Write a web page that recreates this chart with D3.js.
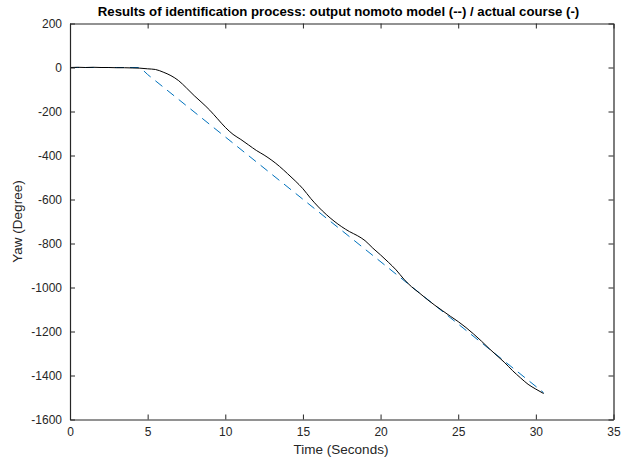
<!DOCTYPE html>
<html>
<head>
<meta charset="utf-8">
<script src="https://cdn.jsdelivr.net/npm/d3@7"></script>
<style>
  body { margin: 0; background: #fff; }
  svg { display: block; font-family: "Liberation Sans", Arial, sans-serif; }
</style>
</head>
<body>
<svg id="chart" width="629" height="461"></svg>
<script>
// actual course (solid black), sampled from the plot
var courseTime = [0, 0.5, 1, 1.5, 2, 2.5, 3, 3.5, 4, 4.5, 5, 5.5, 6, 6.5, 7, 7.5, 8, 8.5, 9, 9.5,
  10, 10.5, 11, 11.5, 12, 12.5, 13, 13.5, 14, 14.5, 15, 15.5, 16, 16.5, 17, 17.5, 18, 18.5, 19, 19.5,
  20, 20.5, 21, 21.5, 22, 22.5, 23, 23.5, 24, 24.5, 25, 25.5, 26, 26.5, 27, 27.5, 28, 28.5, 29, 29.5, 30, 30.5]
var courseYaw = [0, 1, 0, 1, 0, 0, -1, -1, -2, -3, -6, -9, -21, -37, -60, -93, -128, -160, -194, -233,
  -272, -304, -327, -352, -377, -398, -422, -450, -482, -515, -551, -595, -634, -668, -698, -724, -746, -764, -787, -821,
  -852, -885, -920, -962, -997, -1025, -1054, -1081, -1106, -1131, -1155, -1182, -1212, -1244, -1278, -1310, -1342, -1378, -1410, -1440, -1462, -1482]

// nomoto model output (dashed blue)
var modelTime = [0, 4.4, 4.7, 5, 30.5]
var modelYaw = [0, 0, -12, -32, -1478]

var xTicks = [0, 5, 10, 15, 20, 25, 30, 35]
var yTicks = [200, 0, -200, -400, -600, -800, -1000, -1200, -1400, -1600]

var titleText = 'Results of identification process: output nomoto model (--) / actual course (-)'
var xLabel = 'Time (Seconds)'
var yLabel = 'Yaw (Degree)'

var W = 629, H = 461
var margin = {top: 23.5, right: 15.5, bottom: 41.5, left: 70}
var innerW = W - margin.left - margin.right
var innerH = H - margin.top - margin.bottom
var axisColor = '#262626'

var svg = d3.select('#chart')
var g = svg.append('g').attr('transform', 'translate(' + margin.left + ',' + margin.top + ')')

var x = d3.scaleLinear().domain([0, 35]).range([0, innerW])
var y = d3.scaleLinear().domain([-1600, 200]).range([innerH, 0])

// plain ascii minus, no thousands separator (like matlab)
var fmt = function (d) { return String(d) }

// lines
var line = d3.line()
  .x(function (d) { return x(d[0]) })
  .y(function (d) { return y(d[1]) })

var modelData = modelTime.map(function (t, i) { return [t, modelYaw[i]] })
var courseData = courseTime.map(function (t, i) { return [t, courseYaw[i]] })

g.append('path')
  .datum(modelData)
  .attr('d', line)
  .attr('fill', 'none')
  .attr('stroke', '#0072BD')
  .attr('stroke-width', 1)
  .attr('stroke-dasharray', '9,6')

g.append('path')
  .datum(courseData)
  .attr('d', line.curve(d3.curveMonotoneX))
  .attr('fill', 'none')
  .attr('stroke', '#000')
  .attr('stroke-width', 1)

// axes: ticks point inward, box on all four sides
function styleAxis(sel) {
  sel.select('.domain').attr('stroke', axisColor).attr('stroke-width', 1.2)
  sel.selectAll('.tick line').attr('stroke', axisColor)
  sel.selectAll('.tick text').attr('fill', axisColor).attr('font-size', 12)
}

var xAxis = g.append('g')
  .attr('transform', 'translate(0,' + innerH + ')')
  .call(d3.axisBottom(x).tickValues(xTicks).tickFormat(fmt).tickSizeInner(-5).tickSizeOuter(0).tickPadding(8))
styleAxis(xAxis)

var xTop = g.append('g')
  .call(d3.axisTop(x).tickValues(xTicks).tickSizeInner(-5).tickSizeOuter(0).tickFormat(''))
styleAxis(xTop)

var yAxis = g.append('g')
  .call(d3.axisLeft(y).tickValues(yTicks).tickFormat(fmt).tickSizeInner(-5).tickSizeOuter(0).tickPadding(8))
styleAxis(yAxis)

var yRight = g.append('g')
  .attr('transform', 'translate(' + innerW + ',0)')
  .call(d3.axisRight(y).tickValues(yTicks).tickSizeInner(-5).tickSizeOuter(0).tickFormat(''))
styleAxis(yRight)

// labels
svg.append('text')
  .attr('x', 338.5)
  .attr('y', 16)
  .attr('text-anchor', 'middle')
  .attr('font-size', 13.2)
  .attr('font-weight', 'bold')
  .attr('fill', '#000')
  .text(titleText)

svg.append('text')
  .attr('x', 341)
  .attr('y', 454)
  .attr('text-anchor', 'middle')
  .attr('font-size', 13.5)
  .attr('fill', axisColor)
  .text(xLabel)

svg.append('text')
  .attr('transform', 'translate(22,' + (margin.top + innerH / 2) + ') rotate(-90)')
  .attr('text-anchor', 'middle')
  .attr('font-size', 13.5)
  .attr('fill', axisColor)
  .text(yLabel)
</script>
</body>
</html>
